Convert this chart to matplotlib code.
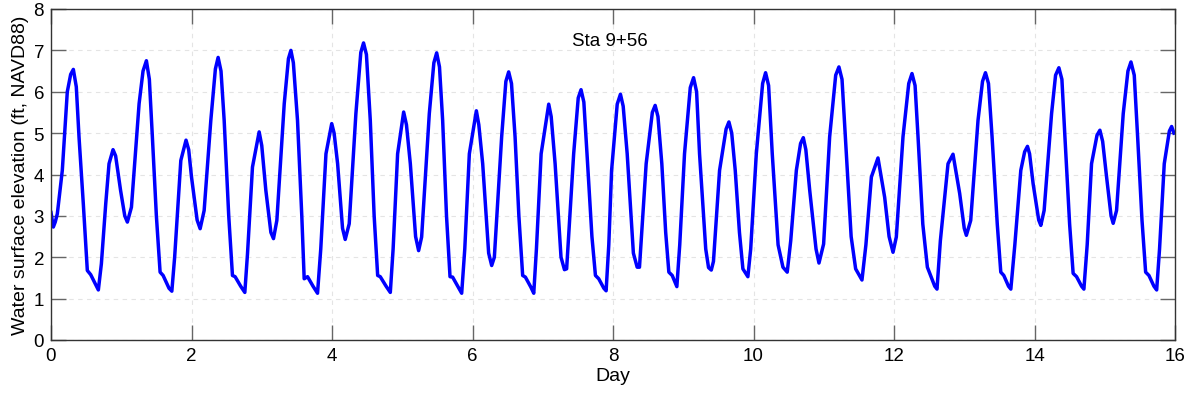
import matplotlib
matplotlib.use("Agg")
import matplotlib.pyplot as plt

plt.rcParams['font.family'] = ['Liberation Sans', 'DejaVu Sans']

# Time (days) and water surface elevation (ft, NAVD88)
days = [
    0.000, 0.033, 0.060, 0.090, 0.161, 0.232, 0.280, 0.318, 0.360, 0.399, 0.460, 0.517, 0.565, 0.674, 0.717, 0.779, 0.826, 0.883, 0.920, 0.990, 1.050, 1.087, 1.145,
    1.254, 1.310, 1.358, 1.400, 1.443, 1.500, 1.553, 1.596, 1.680, 1.720, 1.760, 1.848, 1.922, 1.960, 2.000, 2.080, 2.123, 2.180,
    2.275, 2.340, 2.379, 2.420, 2.465, 2.530, 2.583, 2.621, 2.700, 2.759, 2.797, 2.868, 2.963, 3.000, 3.058, 3.130, 3.167, 3.215,
    3.320, 3.380, 3.415, 3.450, 3.509, 3.570, 3.604, 3.652, 3.730, 3.794, 3.840, 3.914, 3.996, 4.030, 4.080, 4.150, 4.188, 4.245,
    4.340, 4.410, 4.449, 4.490, 4.545, 4.600, 4.650, 4.687, 4.770, 4.830, 4.870, 4.934, 5.020, 5.060, 5.115, 5.190, 5.233, 5.276,
    5.385, 5.450, 5.490, 5.530, 5.575, 5.630, 5.680, 5.717, 5.790, 5.846, 5.890, 5.955, 6.055, 6.090, 6.145, 6.230, 6.273, 6.311,
    6.415, 6.475, 6.515, 6.555, 6.606, 6.660, 6.714, 6.753, 6.830, 6.872, 6.910, 6.977, 7.085, 7.120, 7.176, 7.260, 7.309, 7.340,
    7.440, 7.505, 7.545, 7.585, 7.630, 7.700, 7.750, 7.797, 7.870, 7.902, 7.940, 7.980, 8.060, 8.106, 8.145, 8.202, 8.290, 8.344, 8.377,
    8.472, 8.560, 8.600, 8.640, 8.695, 8.750, 8.795, 8.843, 8.909, 8.950, 9.018, 9.100, 9.147, 9.190, 9.232, 9.320, 9.360, 9.399, 9.430,
    9.517, 9.610, 9.650, 9.690, 9.740, 9.800, 9.849, 9.920, 9.960, 10.040, 10.130, 10.172, 10.215, 10.267, 10.350, 10.419, 10.480, 10.530,
    10.610, 10.670, 10.709, 10.745, 10.800, 10.890, 10.932, 10.998, 11.084, 11.170, 11.216, 11.260, 11.307, 11.390, 11.454, 11.544, 11.600,
    11.678, 11.772, 11.867, 11.930, 11.986, 12.033, 12.128, 12.210, 12.256, 12.300, 12.342, 12.410, 12.475, 12.580, 12.612, 12.660,
    12.769, 12.840, 12.935, 13.000, 13.030, 13.092, 13.196, 13.260, 13.302, 13.345, 13.396, 13.470, 13.520, 13.563, 13.630, 13.663, 13.720,
    13.805, 13.860, 13.900, 13.930, 13.980, 14.060, 14.090, 14.137, 14.243, 14.300, 14.347, 14.390, 14.433, 14.500, 14.550, 14.599, 14.670, 14.703, 14.750,
    14.812, 14.890, 14.931, 14.970, 15.026, 15.090, 15.120, 15.168, 15.263, 15.330, 15.373, 15.420, 15.468, 15.530, 15.582, 15.629, 15.700, 15.739, 15.780,
    15.847, 15.920, 15.952, 15.985,
]
elevation = [
    3.08, 2.73, 2.85, 3.05, 4.10, 6.00, 6.42, 6.54, 6.12, 4.90, 3.29, 1.68, 1.58, 1.21, 1.84, 3.29, 4.26, 4.60, 4.45, 3.62, 3.00, 2.85, 3.21,
    5.71, 6.50, 6.75, 6.30, 4.91, 3.00, 1.64, 1.56, 1.25, 1.18, 2.00, 4.34, 4.83, 4.60, 3.94, 2.90, 2.69, 3.13,
    5.31, 6.55, 6.83, 6.50, 5.31, 3.00, 1.56, 1.53, 1.30, 1.15, 2.08, 4.18, 5.03, 4.70, 3.62, 2.60, 2.45, 2.89,
    5.71, 6.80, 7.00, 6.70, 5.31, 3.00, 1.48, 1.53, 1.30, 1.13, 2.20, 4.50, 5.23, 5.00, 4.26, 2.70, 2.43, 2.81,
    5.47, 6.95, 7.18, 6.90, 5.31, 3.00, 1.56, 1.53, 1.30, 1.15, 2.20, 4.50, 5.51, 5.20, 4.26, 2.50, 2.16, 2.49,
    5.47, 6.70, 6.94, 6.60, 5.31, 3.00, 1.53, 1.52, 1.30, 1.13, 2.20, 4.50, 5.54, 5.20, 4.26, 2.10, 1.80, 2.00,
    4.91, 6.25, 6.48, 6.20, 4.91, 3.00, 1.56, 1.52, 1.28, 1.13, 2.20, 4.50, 5.70, 5.40, 4.26, 2.00, 1.70, 1.72,
    4.50, 5.85, 6.05, 5.75, 4.50, 2.50, 1.56, 1.48, 1.25, 1.19, 2.30, 4.10, 5.70, 5.94, 5.65, 4.50, 2.10, 1.76, 1.76,
    4.26, 5.50, 5.67, 5.40, 4.26, 2.60, 1.64, 1.56, 1.29, 2.30, 4.50, 6.10, 6.34, 6.00, 4.50, 2.20, 1.75, 1.69, 1.90,
    4.10, 5.10, 5.27, 5.00, 4.10, 2.60, 1.72, 1.53, 2.20, 4.50, 6.20, 6.46, 6.15, 4.50, 2.30, 1.76, 1.64, 2.40,
    4.10, 4.75, 4.89, 4.60, 3.62, 2.20, 1.86, 2.32, 4.91, 6.40, 6.60, 6.30, 4.91, 2.50, 1.72, 1.45, 2.30,
    3.94, 4.40, 3.45, 2.50, 2.12, 2.49, 4.91, 6.20, 6.44, 6.15, 4.91, 2.80, 1.76, 1.30, 1.23, 2.40,
    4.26, 4.49, 3.54, 2.70, 2.53, 2.89, 5.31, 6.25, 6.46, 6.20, 4.91, 2.80, 1.64, 1.56, 1.30, 1.23, 2.30,
    4.10, 4.55, 4.68, 4.50, 3.78, 2.90, 2.77, 3.13, 5.47, 6.40, 6.58, 6.30, 4.91, 2.80, 1.61, 1.53, 1.30, 1.23, 2.30,
    4.26, 4.95, 5.07, 4.80, 3.94, 3.00, 2.82, 3.13, 5.47, 6.50, 6.72, 6.40, 4.91, 2.90, 1.64, 1.56, 1.30, 1.21, 2.20,
    4.26, 5.05, 5.16, 5.00,
]

x_ticks = list(range(0, 17, 2))
y_ticks = list(range(0, 9))
station_label = "Sta 9+56"

fig = plt.figure(figsize=(11.99, 4.02), dpi=100)
ax = fig.add_axes([51 / 1199, (402 - 341) / 402, (1175 - 51) / 1199, (341 - 10) / 402])

ax.plot(days, elevation, color='#0000ff', linewidth=2.5, solid_joinstyle='round')

ax.set_xlim(0, 16)
ax.set_ylim(0, 8)
ax.set_xticks(x_ticks)
ax.set_yticks(y_ticks)
ax.grid(True, color='#e4e4e4', linestyle=(0, (4, 4)), linewidth=0.8)
ax.set_axisbelow(True)
ax.tick_params(direction='in', top=True, right=True, length=11, width=1,
               color='#666666', labelsize=13.5, pad=5)
for s in ax.spines.values():
    s.set_color('#333333')
    s.set_linewidth(1.0)

ax.set_xlabel('Day', fontsize=14, labelpad=2)
ax.set_ylabel('Water surface elevation (ft, NAVD88)', fontsize=14, labelpad=3)
ax.text(7.41, 7.24, station_label, fontsize=13.5, ha='left', va='center')

fig.savefig('out.png', dpi=100)
